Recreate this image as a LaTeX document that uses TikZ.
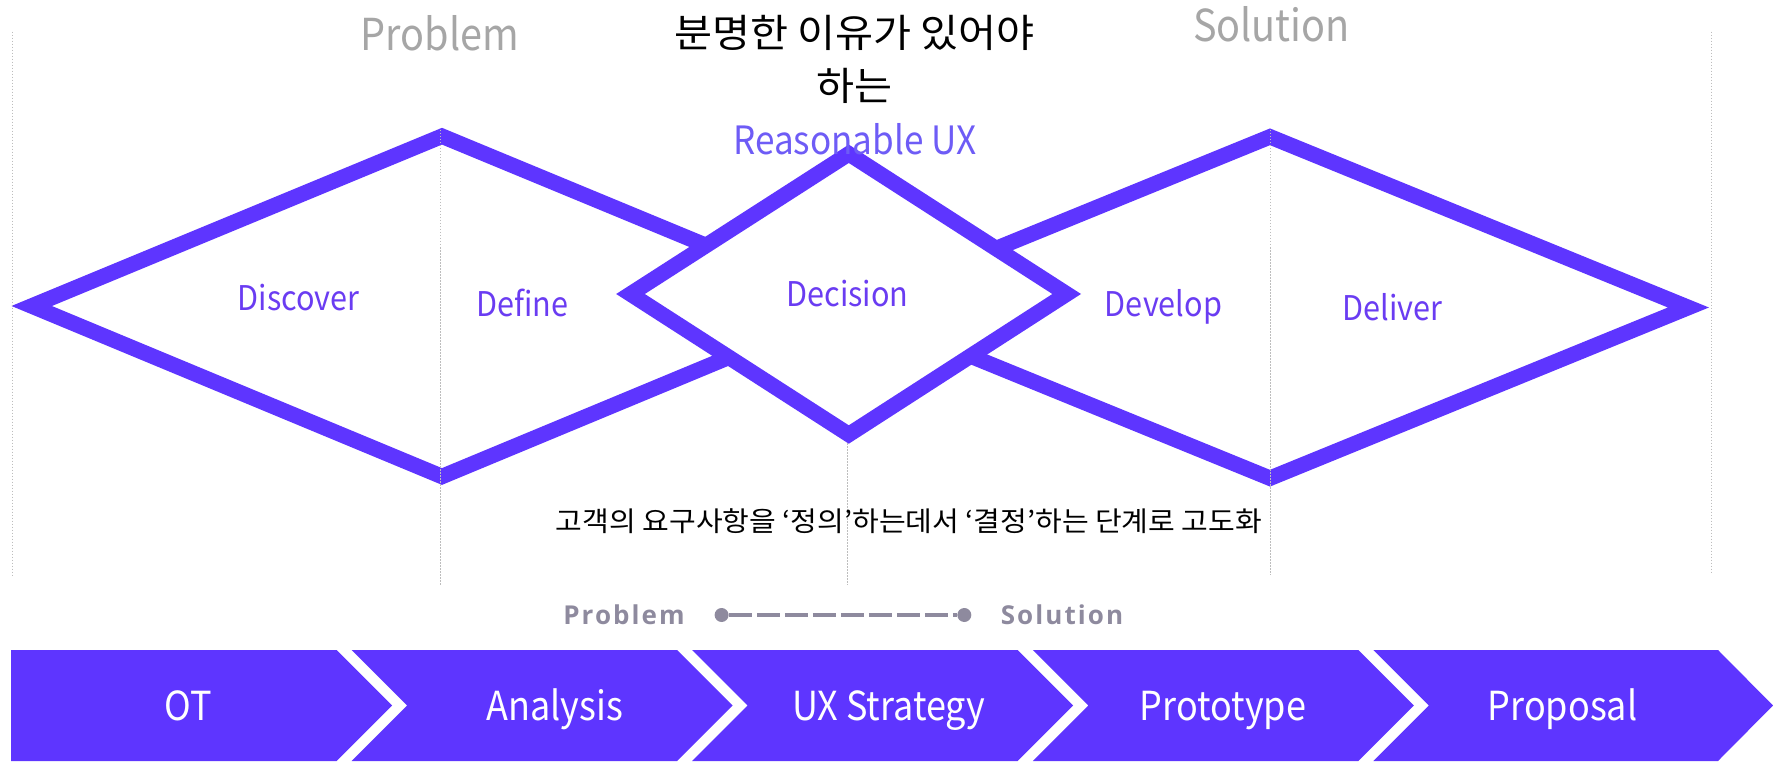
\documentclass[tikz,border=0pt]{standalone}
\usepackage{fontspec}
\setmainfont{Noto Sans CJK KR}[FakeStretch=0.9]
\newfontfamily\kofont{Noto Sans CJK KR}[FakeStretch=1.06]
\newfontfamily\legendfont[LetterSpace=8]{Open Sans}
\definecolor{diampurple}{HTML}{5E35FF}
\definecolor{txtpurple}{HTML}{6A3CF2}
\definecolor{reasonpurple}{HTML}{6E5CF6}
\definecolor{titlegray}{HTML}{A6A6A6}
\definecolor{legendgray}{HTML}{8E8A9E}
\definecolor{dotgray}{HTML}{BDBDBD}
\tikzset{
  diam/.style={draw=diampurple, line width=15.5pt, line join=miter},
  guide/.style={draw=dotgray, line width=0.9pt, dash pattern=on 1.5pt off 1.5pt},
  chev/.style={fill=diampurple, draw=none},
  chevtxt/.style={text=white, anchor=base, font=\fontsize{40}{48}\selectfont, inner sep=0pt},
  phase/.style={text=txtpurple, anchor=base, font=\fontsize{34}{40}\selectfont, inner sep=0pt},
  toplabel/.style={text=titlegray, anchor=base, font=\fontsize{44}{52}\selectfont, inner sep=0pt},
  legend/.style={text=legendgray, anchor=base, font=\legendfont\bfseries\fontsize{26}{30}\selectfont, inner sep=0pt},
  kotitle/.style={anchor=base, inner sep=0pt, font=\kofont\fontsize{39}{46}\selectfont},
  legenddot/.style={circle, fill=legendgray, minimum size=14pt, inner sep=0pt},
}
\begin{document}
\begin{tikzpicture}[x=1pt,y=-1pt]
\useasboundingbox (0,0) rectangle (1773,762);
% diamonds
\draw[diam] (31.7,306) -- (442,136.2) -- (852.3,306) -- (442,476.5) -- cycle;
\draw[diam] (851.6,307.5) -- (1270,136.8) -- (1688.4,307.5) -- (1270,478.2) -- cycle;
\draw[diam, fill=white] (630.5,294) -- (848.8,153.8) -- (1066.7,294) -- (848.8,434.5) -- cycle;
% guides
\coordinate (g0a) at (12.6,31.7);   \coordinate (g0b) at (12.6,575);
\coordinate (g1a) at (440.5,130);   \coordinate (g1b) at (440.5,585);
\coordinate (g2a) at (847.5,443);   \coordinate (g2b) at (847.5,585);
\coordinate (g3a) at (1270.5,130);  \coordinate (g3b) at (1270.5,575);
\coordinate (g4a) at (1711.4,31.7); \coordinate (g4b) at (1711.4,573);
\draw[guide] (g0a) -- (g0b);
\draw[guide] (g1a) -- (g1b);
\draw[guide] (g2a) -- (g2b);
\draw[guide] (g3a) -- (g3b);
\draw[guide] (g4a) -- (g4b);
% top labels
\node[toplabel] (tprob) at (440,50.7) {Problem};
\node[toplabel] (tsol) at (1271.5,41.7) {Solution};
\node[kotitle] (title1) at (854.5,47.5) {분명한 이유가 있어야};
\node[kotitle] (title2) at (854.5,100.5) {하는};
\node[anchor=base, inner sep=0pt, text=reasonpurple, font=\fontsize{39}{46}\selectfont] (reason) at (855,155) {Reasonable UX};
% phase labels
\node[phase] (discover) at (298.5,310) {Discover};
\node[phase] (define) at (522,316.7) {Define};
\node[phase] (decision) at (847.5,306.7) {Decision};
\node[phase] (develop) at (1163.5,316.7) {Develop};
\node[phase] (deliver) at (1392.6,320) {Deliver};
% sentence
\node[anchor=base, inner sep=0pt, font=\kofont\fontsize{27.4}{33}\selectfont] (sentence) at (909,531) {고객의 요구사항을 ‘정의’하는데서 ‘결정’하는 단계로 고도화};
% legend
\node[legend] (lprob) at (624,624.3) {Problem};
\node[legend] (lsol) at (1062,624.3) {Solution};
\node[legenddot] (dot1) at (721.6,615) {};
\node[legenddot] (dot2) at (964.3,615) {};
\draw[legendgray, line width=4.5pt, dash pattern=on 23pt off 5pt] (dot1.east) -- (dot2.west);
% chevrons
\path[chev] (11,650) -- (336.7,650) -- (392.2,705.5) -- (336.7,761) -- (11,761) -- cycle;
\path[chev] (351.7,650) -- (677.2,650) -- (732.7,705.5) -- (677.2,761) -- (351.7,761) -- (407.2,705.5) -- cycle;
\path[chev] (692.2,650) -- (1017.7,650) -- (1073.2,705.5) -- (1017.7,761) -- (692.2,761) -- (747.7,705.5) -- cycle;
\path[chev] (1032.8,650) -- (1358.3,650) -- (1413.8,705.5) -- (1358.3,761) -- (1032.8,761) -- (1088.3,705.5) -- cycle;
\path[chev] (1373.3,650) -- (1718,650) -- (1773,705.5) -- (1718,761) -- (1373.3,761) -- (1428.8,705.5) -- cycle;
\node[chevtxt] (ot) at (188,720.7) {OT};
\node[chevtxt] (analysis) at (554.5,720.7) {Analysis};
\node[chevtxt] (uxs) at (888.8,720.7) {UX Strategy};
\node[chevtxt] (proto) at (1223,720.7) {Prototype};
\node[chevtxt] (propo) at (1562.5,720.7) {Proposal};
\end{tikzpicture}
\end{document}
